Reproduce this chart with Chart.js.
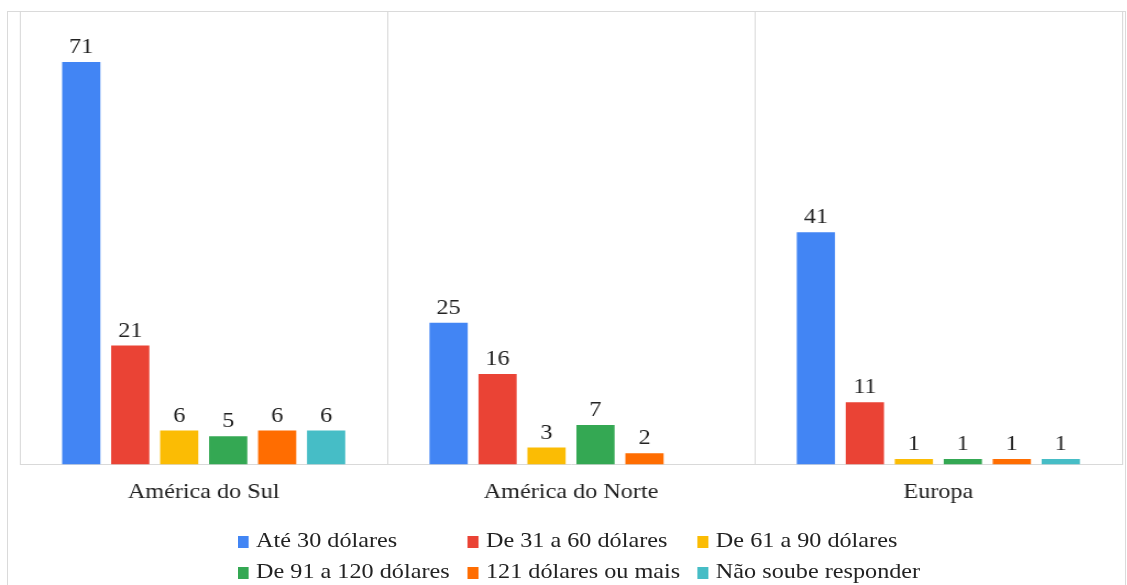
<!DOCTYPE html>
<html>
<head>
<meta charset="utf-8">
<script src="https://cdn.jsdelivr.net/npm/chart.js@4/dist/chart.umd.min.js"></script>
<style>
    html, body { margin: 0; padding: 0; background: #fff; overflow: hidden; }
    #frame {
        position: absolute; left: 7px; top: 11px; width: 1119px; height: 600px;
        border: 1px solid #dadada; box-sizing: border-box;
    }
    /* the whole figure is drawn a bit narrower and stretched sideways */
    #wrap {
        position: absolute; left: 0; top: 0; width: 1025px; height: 585px;
        transform: scaleX(1.1); transform-origin: 0 0;
    }
    #legend {
        position: absolute; left: 215.5px; top: 524px;
        display: grid; grid-template-columns: 209px 209px 209px;
        font: 22px "Liberation Serif", "Times New Roman", serif; color: #222;
        line-height: 31px; white-space: nowrap;
    }
    #legend span.box {
        display: inline-block; width: 10.9px; height: 12px; margin-right: 6.4px;
        vertical-align: -1px;
    }
</style>
</head>
<body>
<div id="frame"></div>
<div id="wrap">
    <canvas id="chartGastos" width="1025" height="585"></canvas>
    <div id="legend"></div>
</div>
<script>
// Regiões e faixas de gasto
const regioes = ["América do Sul", "América do Norte", "Europa"];
const faixas = [
    "Até 30 dólares",
    "De 31 a 60 dólares",
    "De 61 a 90 dólares",
    "De 91 a 120 dólares",
    "121 dólares ou mais",
    "Não soube responder"
];

// valores por faixa (sul, norte, europa)
const ate30 = [71, 25, 41];
const de31a60 = [21, 16, 11];
const de61a90 = [6, 3, 1];
const de91a120 = [5, 7, 1];
const acima121 = [6, 2, 1];
const naoSoube = [6, null, 1];

const cores = ["#4285F4", "#EA4335", "#FBBC04", "#34A853", "#FF6D01", "#46BDC6"];

const valores = [ate30, de31a60, de61a90, de91a120, acima121, naoSoube];

const fonte = '"Liberation Serif", "Times New Roman", serif';

// rótulos em cima das barras
const rotulos = {
    id: "rotulos",
    afterDatasetsDraw(chart) {
        const ctx = chart.ctx;
        ctx.save();
        ctx.font = "22px " + fonte;
        ctx.fillStyle = "#222";
        ctx.textAlign = "center";
        ctx.textBaseline = "alphabetic";
        chart.data.datasets.forEach((ds, i) => {
            const meta = chart.getDatasetMeta(i);
            meta.data.forEach((bar, j) => {
                const v = ds.data[j];
                if (v === null || v === undefined) return;
                ctx.fillText(v, bar.x, bar.y - 9);
            });
        });
        ctx.restore();
    }
};

setupChart = () => {
    const config = {
        type: "bar",
        data: {
            labels: regioes,
            datasets: faixas.map((f, i) => ({
                label: f,
                data: valores[i],
                backgroundColor: cores[i],
                barPercentage: 0.78,
                categoryPercentage: 0.8,
            })),
        },
        options: {
            responsive: false,
            animation: false,
            layout: {
                padding: { left: 18.2, right: 5, top: 11, bottom: 66 },
            },
            plugins: {
                legend: { display: false },
                tooltip: { enabled: false },
            },
            scales: {
                x: {
                    grid: {
                        color: "#d9d9d9",
                        lineWidth: 1,
                        drawTicks: false,
                        offset: true,
                    },
                    border: { color: "#d9d9d9", width: 1 },
                    ticks: {
                        color: "#222",
                        padding: 14,
                        font: { family: fonte, size: 22 },
                    },
                },
                y: {
                    display: false,
                    min: 0,
                    max: 80,
                },
            },
        },
        plugins: [rotulos],
    };

    let grafico = new Chart(document.getElementById("chartGastos"), config);

    // legenda em colunas fixas
    const leg = document.getElementById("legend");
    grafico.data.datasets.forEach((ds) => {
        const item = document.createElement("div");
        item.innerHTML = '<span class="box" style="background:' + ds.backgroundColor + '"></span>' + ds.label;
        leg.appendChild(item);
    });
};

setupChart();
</script>
</body>
</html>
